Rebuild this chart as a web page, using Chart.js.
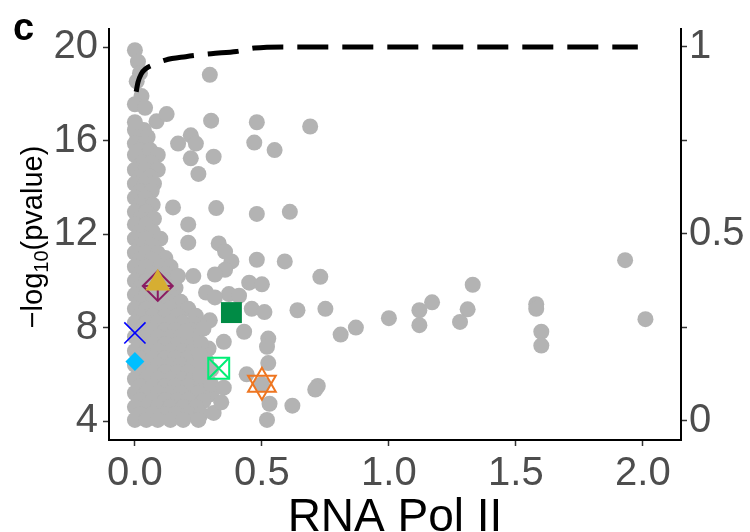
<!DOCTYPE html>
<html>
<head>
<meta charset="utf-8">
<script src="https://cdn.jsdelivr.net/npm/chart.js@4.4.1/dist/chart.umd.min.js"></script>
<style>
  html, body { margin: 0; padding: 0; background: #fff; }
  #wrap { width: 750px; height: 532px; }
</style>
</head>
<body>
<div id="wrap"><canvas id="chart" width="750" height="532"></canvas></div>
<script>
// Genes: RNA Pol II signal vs -log10(pvalue)
const FONT = '"Liberation Sans", Arial, Helvetica, sans-serif';

const xTicks = [0, 0.5, 1, 1.5, 2];
const yTicks = [4, 8, 12, 16, 20];
const y2Ticks = [0, 0.25, 0.5, 0.75, 1];
const y2Labels = { 0: '0', 0.5: '0.5', 1: '1' };

// dense strip of genes with little Pol II signal  [polII, logP]
const stripGenes = [
    [0.0, 19.86], [0.012, 19.37], [0.02, 18.88], [0.007, 18.53], [0.026, 17.9], [0.0, 17.55], [0.04, 17.4],
    [0.0, 16.78], [0.085, 16.82], [0.125, 17.13],
    [0.0, 16.45], [0.035, 16.45], [0.01, 16.15], [0.05, 16.15],
    [0.0, 15.87], [0.04, 15.87], [0.02, 15.59], [0.06, 15.59], [0.0, 15.38], [0.09, 15.38],
    [0.03, 15.05], [0.065, 15.05], [0.0, 14.75], [0.04, 14.75], [0.09, 14.75], [0.02, 14.45], [0.06, 14.45],
    [0.0, 14.15], [0.04, 14.15], [0.075, 14.15], [0.02, 13.84], [0.066, 13.84], [0.0, 13.55], [0.04, 13.55],
    [0.02, 13.25], [0.07, 13.25], [0.0, 12.95], [0.045, 12.95], [0.02, 12.65], [0.075, 12.65],
    [0.0, 12.41], [0.045, 12.41], [0.02, 12.1], [0.07, 12.1], [0.0, 11.8], [0.045, 11.8], [0.1, 11.8],
    [0.02, 11.5], [0.07, 11.5], [0.0, 11.2], [0.045, 11.2], [0.09, 11.18], [0.12, 10.97],
    [0.02, 10.9], [0.07, 10.9], [0.0, 10.6], [0.045, 10.6], [0.1, 10.6], [0.14, 10.6],
    [0.02, 10.3], [0.07, 10.3], [0.12, 10.3], [0.0, 10.0], [0.045, 10.0], [0.1, 10.0], [0.14, 10.0],
    [0.02, 9.7], [0.07, 9.7], [0.12, 9.7], [0.16, 9.7], [0.0, 9.4], [0.045, 9.4], [0.09, 9.4], [0.14, 9.4],
    [0.02, 9.1], [0.07, 9.1], [0.125, 9.15], [0.18, 9.1],
    [0.0, 8.8], [0.045, 8.8], [0.09, 8.8], [0.14, 8.8], [0.21, 8.8],
    [0.02, 8.5], [0.07, 8.5], [0.12, 8.5], [0.17, 8.5], [0.24, 8.5],
    [0.0, 8.2], [0.045, 8.2], [0.09, 8.2], [0.14, 8.2], [0.19, 8.2], [0.23, 8.15],
    [0.02, 7.9], [0.07, 7.9], [0.12, 7.9], [0.16, 7.9], [0.22, 7.9],
    [0.0, 7.6], [0.045, 7.6], [0.09, 7.6], [0.14, 7.6], [0.18, 7.6], [0.23, 7.6],
    [0.02, 7.3], [0.07, 7.3], [0.12, 7.3], [0.17, 7.3], [0.21, 7.3], [0.29, 7.1],
    [0.0, 7.0], [0.045, 7.0], [0.09, 7.0], [0.14, 7.0], [0.19, 7.0], [0.23, 7.0],
    [0.02, 6.7], [0.07, 6.7], [0.12, 6.7], [0.16, 6.7], [0.21, 6.7], [0.28, 6.6],
    [0.0, 6.4], [0.045, 6.4], [0.09, 6.4], [0.14, 6.4], [0.18, 6.4], [0.23, 6.4],
    [0.02, 6.1], [0.07, 6.1], [0.12, 6.1], [0.17, 6.1], [0.21, 6.1], [0.26, 6.1], [0.3, 6.2],
    [0.0, 5.8], [0.045, 5.8], [0.09, 5.8], [0.14, 5.8], [0.19, 5.8], [0.23, 5.8],
    [0.02, 5.5], [0.07, 5.5], [0.12, 5.5], [0.16, 5.5], [0.21, 5.5], [0.26, 5.45],
    [0.0, 5.2], [0.045, 5.2], [0.09, 5.2], [0.14, 5.2], [0.18, 5.2], [0.25, 5.2], [0.3, 5.15],
    [0.02, 4.9], [0.07, 4.9], [0.12, 4.9], [0.17, 4.9], [0.21, 4.9], [0.27, 4.85],
    [0.0, 4.6], [0.045, 4.6], [0.09, 4.6], [0.14, 4.6], [0.19, 4.6], [0.24, 4.6],
    [0.02, 4.3], [0.07, 4.3], [0.12, 4.3], [0.16, 4.3], [0.21, 4.3], [0.26, 4.3], [0.31, 4.35],
    [0.0, 4.05], [0.045, 4.05], [0.09, 4.05], [0.14, 4.05], [0.19, 4.05], [0.25, 4.05]
];

// genes away from the strip  [polII, logP]
const spreadGenes = [
    [0.295, 18.81], [0.30, 16.85], [0.48, 16.78], [0.69, 16.6], [0.22, 16.22], [0.17, 15.87], [0.24, 15.87],
    [0.47, 15.91], [0.55, 15.59], [0.31, 15.31], [0.22, 15.24], [0.25, 14.57], [0.15, 13.14], [0.32, 13.11],
    [0.61, 12.95], [0.48, 12.86], [0.21, 12.41], [0.21, 11.63], [0.33, 11.6], [0.355, 11.25], [0.38, 10.83],
    [0.48, 10.9], [0.59, 10.83], [0.355, 10.47], [0.315, 10.27], [0.17, 10.2], [0.23, 10.2], [0.73, 10.17],
    [0.45, 9.92], [0.50, 9.85], [0.28, 9.5], [0.37, 9.43], [0.41, 9.36], [0.315, 9.29], [0.46, 8.8],
    [0.51, 8.66], [0.64, 8.74], [0.295, 8.31], [0.27, 7.96], [0.20, 7.82], [0.43, 7.82], [0.525, 7.53],
    [0.35, 7.39], [0.26, 7.32], [0.52, 7.18], [0.256, 6.84], [0.525, 6.48], [0.44, 6.0], [0.256, 5.92],
    [0.30, 5.57], [0.50, 5.57], [0.35, 5.43], [0.34, 4.8], [0.53, 4.74], [0.62, 4.66], [0.52, 4.05],
    [0.75, 8.8], [0.81, 7.7], [0.87, 8.0], [1.0, 8.4], [1.12, 8.74], [1.12, 8.1], [1.17, 9.08],
    [1.31, 8.78], [1.28, 8.24], [1.33, 9.83], [1.58, 9.0], [1.58, 8.8], [1.60, 7.82], [1.60, 7.23],
    [1.93, 10.88], [2.01, 8.36], [0.72, 5.5], [0.71, 5.35]
];

// cumulative fraction (right axis)
const curveX = [0.005, 0.012, 0.025, 0.045, 0.07, 0.12, 0.2, 0.3, 0.4, 0.47, 0.6, 1.0, 1.5, 1.98];
const curveY = [0.88, 0.905, 0.928, 0.943, 0.952, 0.965, 0.974, 0.982, 0.988, 0.997, 1.0, 1.0, 1.0, 1.0];

// highlighted genes
const goldGene = [0.09, 9.9];
const purpleGene = [0.09, 9.78];
const blueGene = [0.0, 7.77];
const cyanGene = [0.0, 6.55];
const darkGreenGene = [0.38, 8.64];
const springGene = [0.33, 6.26];
const orangeGene = [0.50, 5.6];

const pts = arr => arr.map(p => ({ x: p[0], y: p[1] }));
const pt = p => [{ x: p[0], y: p[1] }];
const NONE = 'rgba(0,0,0,0)';

const marker = (p, style, radius, color, extra) => Object.assign({
    type: 'scatter', data: pt(p), yAxisID: 'y', order: 2,
    pointStyle: style, pointRadius: radius, pointHoverRadius: radius,
    backgroundColor: NONE, borderColor: color, borderWidth: 2
}, extra || {});

const datasets = [
    {
        type: 'scatter', data: pts(stripGenes.concat(spreadGenes)), yAxisID: 'y', order: 20,
        pointRadius: 8, pointHoverRadius: 8, backgroundColor: '#B3B3B3', borderWidth: 0
    },
    {
        type: 'line', data: curveX.map((x, i) => ({ x: x, y: curveY[i] })), yAxisID: 'y2', order: 10,
        borderColor: '#000', borderWidth: 5, borderDash: [31, 14], borderCapStyle: 'butt',
        pointRadius: 0, fill: false, cubicInterpolationMode: 'monotone'
    },
    marker(purpleGene, 'rectRot', 15, '#8B1C62', { order: 3 }),
    marker(purpleGene, 'cross', 15, '#8B1C62', { order: 3 }),
    marker(goldGene, 'triangle', 14.5, '#D6AE32', { backgroundColor: '#D6AE32', borderWidth: 0, order: 1 }),
    marker(blueGene, 'crossRot', 15, '#0000FF', { borderWidth: 1.6 }),
    marker(cyanGene, 'rectRot', 9.5, '#00BFFF', { backgroundColor: '#00BFFF', borderWidth: 0 }),
    marker(darkGreenGene, 'rect', 14.8, '#008B45', { backgroundColor: '#008B45', borderWidth: 0 }),
    marker(springGene, 'rect', 14.8, '#00EE76'),
    marker(springGene, 'crossRot', 14.8, '#00EE76'),
    marker(orangeGene, 'triangle', 16, '#EE7621'),
    marker(orangeGene, 'triangle', 16, '#EE7621', { rotation: 180 })
];

// text that the scale titles can't do (subscript) plus the panel letter
const extraText = {
    id: 'extraText',
    afterDraw(chart) {
        const ctx = chart.ctx;
        const area = chart.chartArea;
        ctx.save();
        ctx.fillStyle = '#000';
        ctx.textBaseline = 'alphabetic';

        // panel letter
        ctx.font = 'bold 38px ' + FONT;
        ctx.textAlign = 'left';
        ctx.fillText('c', 13, 40);

        // x title
        ctx.font = '46px ' + FONT;
        ctx.textAlign = 'center';
        ctx.fillText('RNA Pol II', (area.left + area.right) / 2, 531);

        // y title, rotated, with subscript
        const big = '29px ' + FONT, small = '20px ' + FONT;
        const parts = [['\u2212log', big, 0], ['10', small, 6], ['(pvalue)', big, 0]];
        let total = 0;
        parts.forEach(p => { ctx.font = p[1]; total += ctx.measureText(p[0]).width; });
        ctx.translate(42, 237);
        ctx.rotate(-Math.PI / 2);
        ctx.textAlign = 'left';
        let x = -total / 2;
        parts.forEach(p => {
            ctx.font = p[1];
            ctx.fillText(p[0], x, p[2]);
            x += ctx.measureText(p[0]).width;
        });
        ctx.restore();
    }
};

const tickFont = { family: FONT, size: 40 };
const axisGrid = { drawOnChartArea: false, drawTicks: true, tickLength: 6, tickWidth: 1.5, tickColor: '#333333' };
const axisBorder = { display: true, color: '#000', width: 2 };

new Chart(document.getElementById('chart'), {
    data: { datasets: datasets },
    options: {
        responsive: false,
        animation: false,
        devicePixelRatio: 1,
        events: [],
        layout: { padding: { top: 22, left: 0, right: 0, bottom: 0 } },
        plugins: { legend: { display: false }, tooltip: { enabled: false } },
        scales: {
            x: {
                type: 'linear', position: 'bottom', min: -0.102, max: 2.15,
                afterBuildTicks: s => { s.ticks = xTicks.map(v => ({ value: v })); },
                afterFit: s => { s.height = 92; },
                grid: axisGrid, border: axisBorder,
                ticks: { color: '#4D4D4D', font: tickFont, padding: 4, maxRotation: 0, callback: v => v.toFixed(1) }
            },
            y: {
                type: 'linear', position: 'left', min: 3.19, max: 20.77,
                afterBuildTicks: s => { s.ticks = yTicks.map(v => ({ value: v })); },
                afterFit: s => { s.width = 109; },
                grid: axisGrid, border: axisBorder,
                ticks: { color: '#4D4D4D', font: tickFont, padding: 5, callback: v => String(v) }
            },
            y2: {
                type: 'linear', position: 'right', min: -0.051, max: 1.048,
                afterBuildTicks: s => { s.ticks = y2Ticks.map(v => ({ value: v })); },
                afterFit: s => { s.width = 69; },
                grid: axisGrid, border: axisBorder,
                ticks: { color: '#4D4D4D', font: tickFont, padding: 2, callback: v => y2Labels[v] || '' }
            }
        }
    },
    plugins: [extraText]
});
</script>
</body>
</html>
